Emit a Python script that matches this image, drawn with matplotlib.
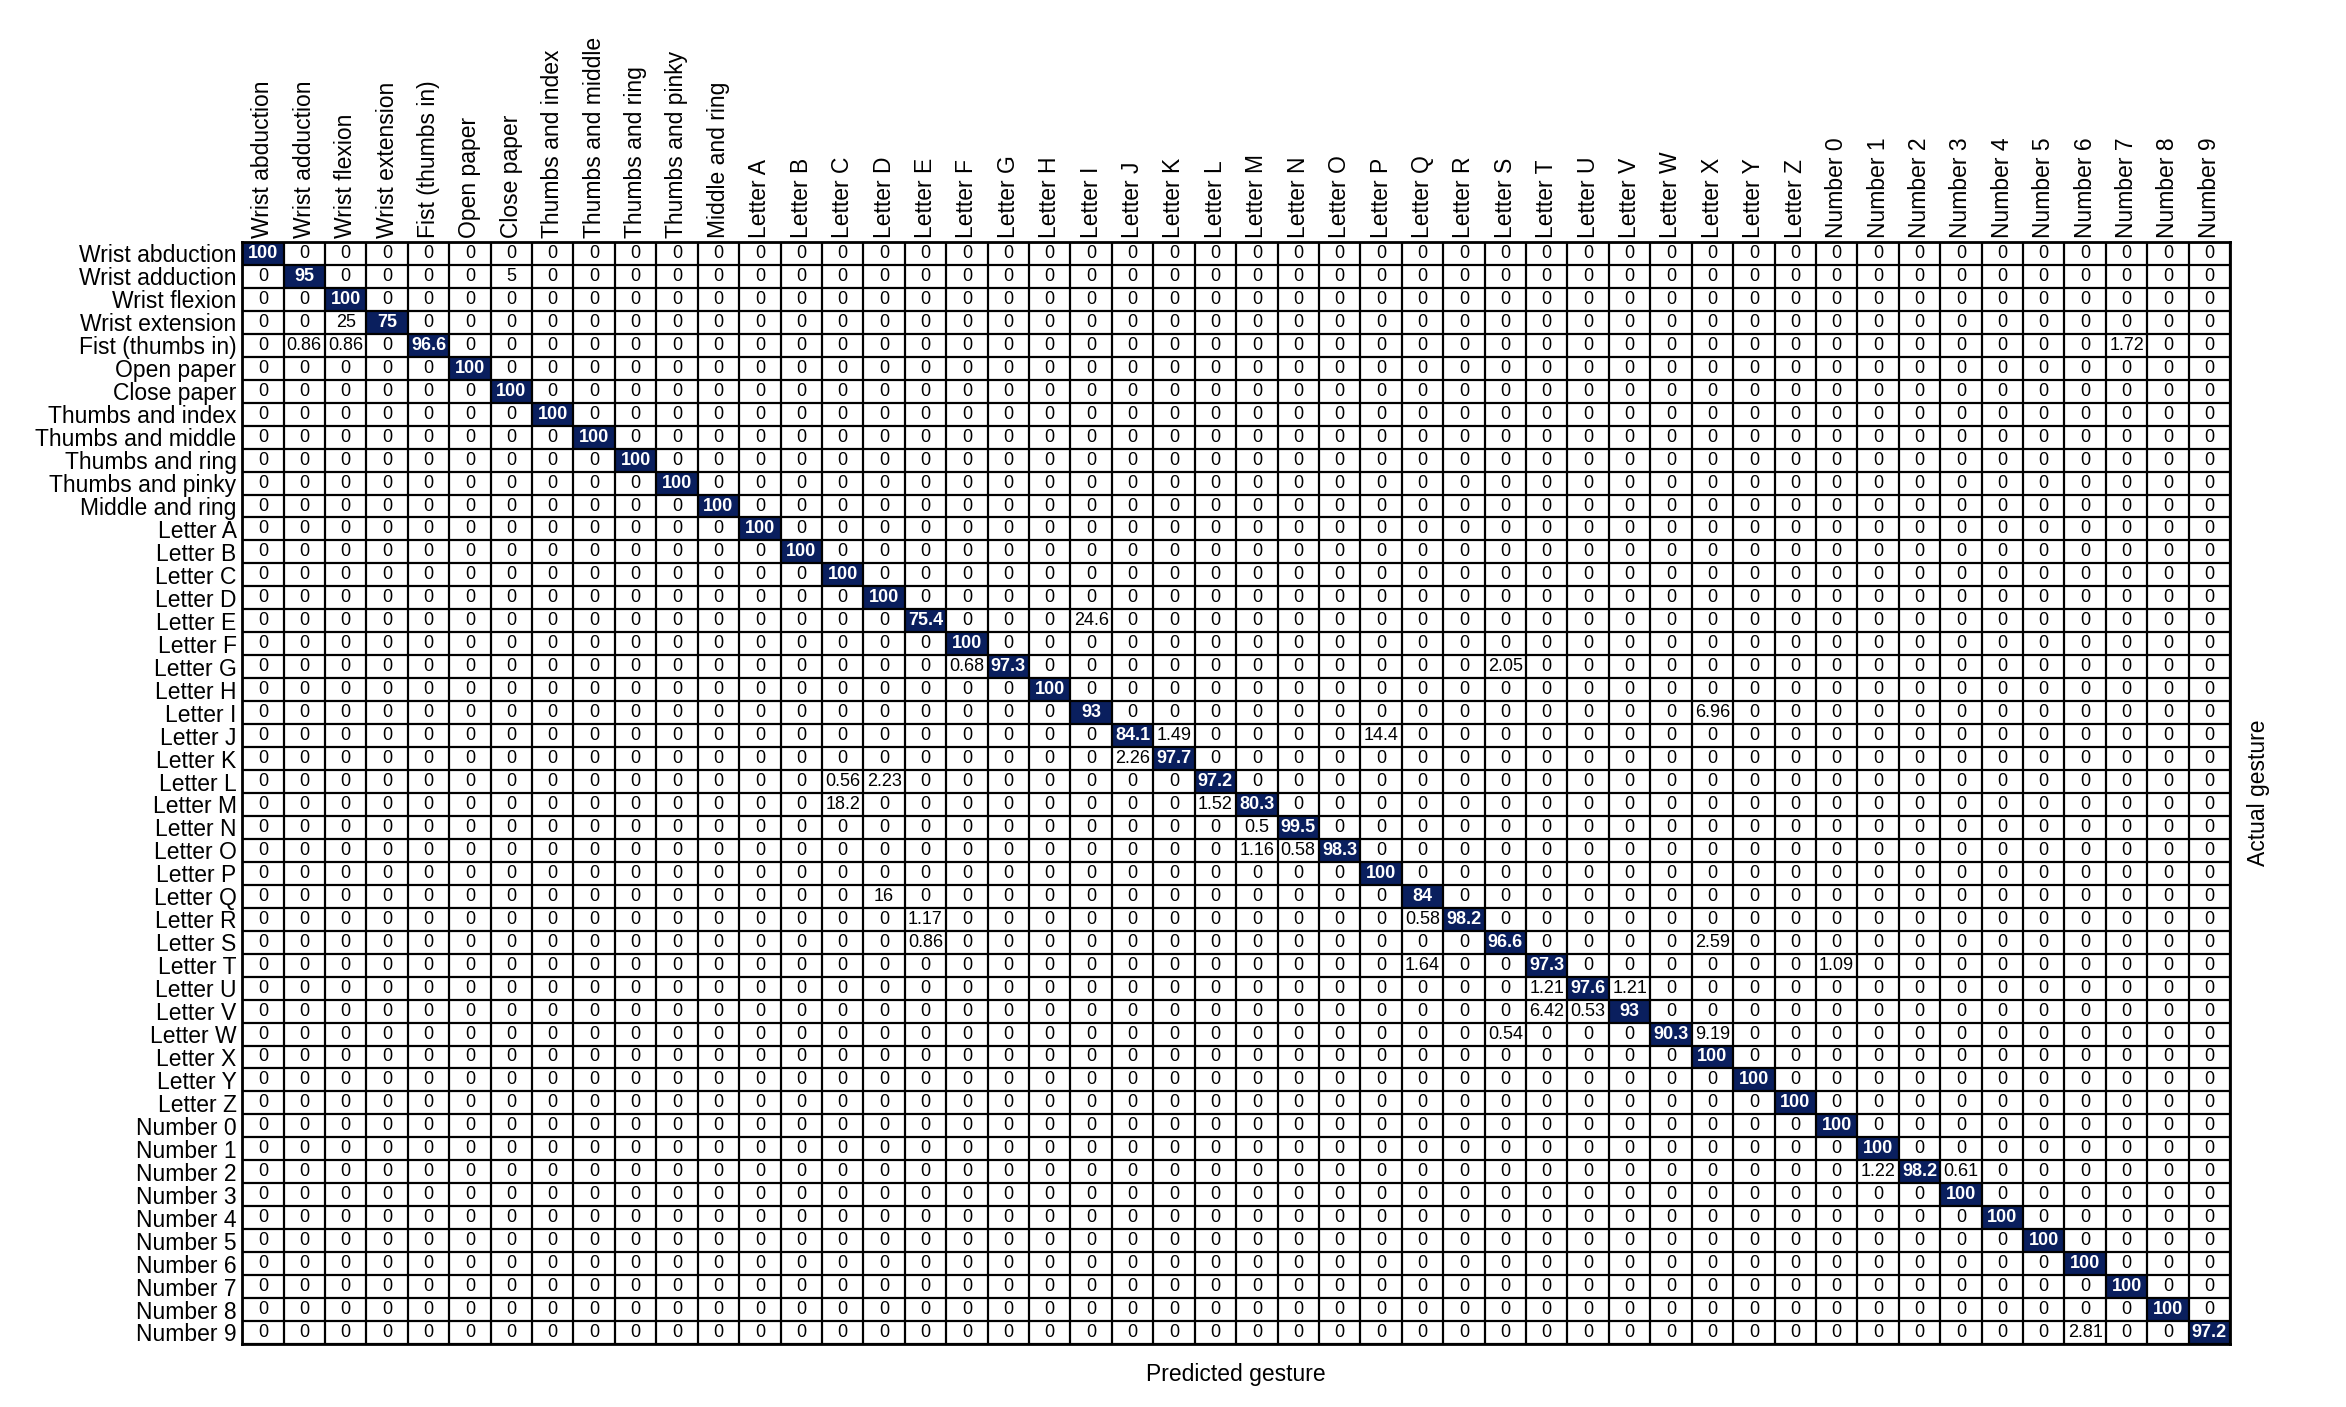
import matplotlib
matplotlib.use('Agg')
import matplotlib.pyplot as plt
import numpy as np
from matplotlib.colors import ListedColormap

plt.rcParams['font.family'] = ['Liberation Sans', 'DejaVu Sans']

# Gesture classes (rows = actual, columns = predicted)
gestures = ["Wrist abduction", "Wrist adduction", "Wrist flexion", "Wrist extension",
            "Fist (thumbs in)", "Open paper", "Close paper", "Thumbs and index",
            "Thumbs and middle", "Thumbs and ring", "Thumbs and pinky", "Middle and ring"]
gestures += ["Letter " + c for c in "ABCDEFGHIJKLMNOPQRSTUVWXYZ"]
gestures += ["Number " + str(k) for k in range(10)]

# Diagonal (correct classification, %)
diagonal = [100, 95, 100, 75, 96.6, 100, 100, 100, 100, 100, 100, 100,
            100, 100, 100, 100, 75.4, 100, 97.3, 100, 93, 84.1, 97.7, 97.2, 80.3,
            99.5, 98.3, 100, 84, 98.2, 96.6, 97.3, 97.6, 93, 90.3, 100, 100, 100,
            100, 100, 98.2, 100, 100, 100, 100, 100, 100, 97.2]

# Off-diagonal confusions: (actual, predicted, %)
confusions = [
    ("Wrist adduction", "Close paper", 5),
    ("Wrist extension", "Wrist flexion", 25),
    ("Fist (thumbs in)", "Wrist adduction", 0.86),
    ("Fist (thumbs in)", "Wrist flexion", 0.86),
    ("Fist (thumbs in)", "Number 7", 1.72),
    ("Letter E", "Letter I", 24.6),
    ("Letter G", "Letter F", 0.68),
    ("Letter G", "Letter S", 2.05),
    ("Letter I", "Letter X", 6.96),
    ("Letter J", "Letter K", 1.49),
    ("Letter J", "Letter P", 14.4),
    ("Letter K", "Letter J", 2.26),
    ("Letter L", "Letter C", 0.56),
    ("Letter L", "Letter D", 2.23),
    ("Letter M", "Letter C", 18.2),
    ("Letter M", "Letter L", 1.52),
    ("Letter N", "Letter M", 0.5),
    ("Letter O", "Letter M", 1.16),
    ("Letter O", "Letter N", 0.58),
    ("Letter Q", "Letter D", 16),
    ("Letter R", "Letter E", 1.17),
    ("Letter R", "Letter Q", 0.58),
    ("Letter S", "Letter E", 0.86),
    ("Letter S", "Letter X", 2.59),
    ("Letter T", "Letter Q", 1.64),
    ("Letter T", "Number 0", 1.09),
    ("Letter U", "Letter T", 1.21),
    ("Letter U", "Letter V", 1.21),
    ("Letter V", "Letter T", 6.42),
    ("Letter V", "Letter U", 0.53),
    ("Letter W", "Letter S", 0.54),
    ("Letter W", "Letter X", 9.19),
    ("Number 2", "Number 1", 1.22),
    ("Number 2", "Number 3", 0.61),
    ("Number 9", "Number 6", 2.81),
]

navy = '#0a1f5e'
n = len(gestures)
idx = {g: i for i, g in enumerate(gestures)}
cm = np.diag(np.array(diagonal, dtype=float))
for actual, pred, v in confusions:
    cm[idx[actual], idx[pred]] = v

fig = plt.figure(figsize=(23.46, 14.07), dpi=100)
ax = fig.add_axes([0.1032, 0.0448, 0.8474, 0.7832])

ax.imshow(cm >= 50, cmap=ListedColormap(['white', navy]), aspect='auto',
          interpolation='nearest', vmin=0, vmax=1)

for i in range(n):
    for j in range(n):
        v = cm[i, j]
        if v >= 50:
            ax.text(j, i, f'{v:g}', ha='center', va='center', fontsize=13,
                    color='white', fontweight='bold')
        else:
            ax.text(j, i, f'{v:g}', ha='center', va='center', fontsize=13,
                    color='black')

# cell borders
ax.set_xticks(np.arange(n + 1) - 0.5, minor=True)
ax.set_yticks(np.arange(n + 1) - 0.5, minor=True)
ax.grid(which='minor', color='black', linewidth=1.6)
ax.tick_params(which='both', length=0)

ax.set_xticks(np.arange(n))
ax.set_yticks(np.arange(n))
ax.xaxis.tick_top()
ax.set_xticklabels(gestures, rotation=90, fontsize=16.5)
ax.set_yticklabels(gestures, fontsize=16.5)
ax.tick_params(axis='x', pad=3)
ax.tick_params(axis='y', pad=4)

ax.xaxis.set_label_position('bottom')
ax.set_xlabel('Predicted gesture', fontsize=16.5, labelpad=14)
ax.yaxis.set_label_position('right')
ax.set_ylabel('Actual gesture', fontsize=16.5, labelpad=12)

for s in ax.spines.values():
    s.set_linewidth(2)

fig.savefig('out.png', dpi=100)
